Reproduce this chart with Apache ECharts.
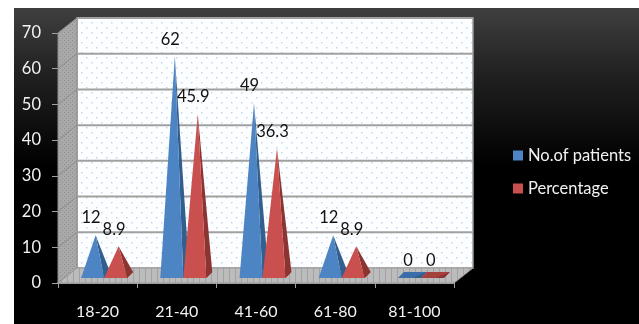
<!DOCTYPE html>
<html>
<head>
<meta charset="utf-8">
<style>html,body{margin:0;padding:0;background:#fff}#chart{width:639px;height:324px}</style>
<script src="https://cdn.jsdelivr.net/npm/echarts@6/dist/echarts.min.js"></script>
</head>
<body>
<div id="chart"></div>
<script>
const categories = ['18-20', '21-40', '41-60', '61-80', '81-100'];
const patients = [12, 62, 49, 12, 0];
const percentage = [8.9, 45.9, 36.3, 8.9, 0];
const yTicks = [0, 10, 20, 30, 40, 50, 60, 70];

// little tile used to fake the office dotted / hatched fills
function tile(w, h, bg, fg, draw) {
  const c = document.createElement('canvas');
  c.width = w; c.height = h;
  const ctx = c.getContext('2d');
  ctx.fillStyle = bg;
  ctx.fillRect(0, 0, w, h);
  ctx.fillStyle = fg;
  ctx.strokeStyle = fg;
  draw(ctx);
  return { image: c, repeat: 'repeat' };
}
const wallFill = tile(10, 10, '#fdfeff', '#c3d6ee', (g) => {
  g.fillRect(1, 2, 1.5, 1.5);
  g.fillRect(6, 7, 1.5, 1.5);
});
const sideFill = tile(4, 4, '#a9a9a9', '#8f8f8f', (g) => {
  g.fillRect(0, 0, 1, 1);
  g.fillRect(2, 2, 1, 1);
});
const floorFill = tile(6, 4, '#bcbcbc', '#a2a2a2', (g) => {
  g.fillRect(1, 0, 1, 4);
});

// depth of the fake 3d box
const depthX = 19, depthY = -15;

function renderWall(params, api) {
  const v = api.value(0);
  const p = api.coord([0, v]);
  const size = api.size([1, 0]);
  const left = p[0] - size[0] / 2;
  const right = left + size[0] * categories.length;
  const children = [];
  if (params.dataIndex === 0) {
    const top = api.coord([0, yTicks[yTicks.length - 1]])[1];
    children.push({
      type: 'polygon',
      shape: { points: [[left + depthX, top + depthY], [right + depthX, top + depthY], [right + depthX, p[1] + depthY], [left + depthX, p[1] + depthY]] },
      style: { fill: wallFill, stroke: '#9a9a9a', lineWidth: 1.5 }
    }, {
      type: 'polygon',
      shape: { points: [[left, top], [left + depthX, top + depthY], [left + depthX, p[1] + depthY], [left, p[1]]] },
      style: { fill: sideFill, stroke: '#8c8c8c', lineWidth: 1 }
    }, {
      type: 'polygon',
      shape: { points: [[left, p[1]], [left + depthX, p[1] + depthY], [right + depthX, p[1] + depthY], [right, p[1]]] },
      style: { fill: floorFill, stroke: '#9a9a9a', lineWidth: 1 }
    });
  } else {
    children.push({
      type: 'line',
      shape: { x1: left + depthX, y1: p[1] + depthY, x2: right + depthX, y2: p[1] + depthY },
      style: { stroke: '#a0a0a0', lineWidth: 2 }
    }, {
      type: 'line',
      shape: { x1: left, y1: p[1], x2: left + depthX, y2: p[1] + depthY },
      style: { stroke: '#8c8c8c', lineWidth: 1 }
    });
  }
  return { type: 'group', children: children };
}

function pyramidRender(side, front, dark, base) {
  return function (params, api) {
    const idx = api.value(0);
    const val = api.value(1);
    const band = api.size([1, 0])[0];
    const barW = band * 0.29;
    const zero = api.coord([idx, 0]);
    const top = api.coord([idx, val]);
    const x0 = zero[0] + 6.5 + (side < 0 ? -barW : 0);
    const x1 = x0 + barW;
    const y0 = zero[1] - 5;
    const ax = (x0 + x1) / 2 + 3;
    const ay = top[1] - 5;
    return {
      type: 'group',
      children: [{
        type: 'polygon',
        shape: { points: [[x0, y0], [x1, y0], [x1 + 6, y0 - 6], [x0 + 6, y0 - 6]] },
        style: { fill: base }
      }, {
        type: 'polygon',
        shape: { points: [[x1, y0], [x1 + 6, y0 - 6], [ax, ay]] },
        style: { fill: dark }
      }, {
        type: 'polygon',
        shape: { points: [[x0, y0], [x1, y0], [ax, ay]] },
        style: { fill: front }
      }, {
        type: 'text',
        style: {
          x: ax - 4.5, y: ay - 17, text: String(val), align: 'center', verticalAlign: 'middle',
          fill: '#111', font: '16.5px Lato'
        }
      }]
    };
  };
}

const chart = echarts.init(document.getElementById('chart'), null, { renderer: 'canvas' });
chart.setOption({
  animation: false,
  backgroundColor: '#fff',
  textStyle: { fontFamily: 'Lato' },
  graphic: [{
    type: 'rect',
    z: -10,
    shape: { x: 14, y: 8, width: 625, height: 316 },
    style: {
      fill: new echarts.graphic.LinearGradient(0, 0, 0, 1, [
        { offset: 0, color: '#3f3f3f' },
        { offset: 0.2, color: '#222' },
        { offset: 0.5, color: '#000' },
        { offset: 1, color: '#000' }
      ])
    }
  }],
  legend: {
    data: ['No.of patients', 'Percentage'],
    orient: 'vertical',
    left: 508,
    top: 142,
    icon: 'rect',
    itemWidth: 10,
    itemHeight: 10,
    itemGap: 16,
    textStyle: { color: '#f2f2f2', fontSize: 16.5, fontFamily: 'Lato' }
  },
  grid: { left: 58, right: 185, top: 33, bottom: 41 },
  xAxis: {
    type: 'category',
    data: categories,
    axisLine: { lineStyle: { color: '#a0a0a0', width: 2 } },
    axisTick: { show: true, alignWithLabel: false, length: 5, lineStyle: { color: '#a0a0a0' } },
    axisLabel: { color: '#f2f2f2', fontSize: 16, margin: 21, fontFamily: 'Lato' }
  },
  yAxis: {
    type: 'value',
    min: 0,
    max: 70,
    interval: 10,
    splitLine: { show: false },
    axisLine: { show: true, lineStyle: { color: '#a0a0a0' } },
    axisTick: { show: true, length: 6, lineStyle: { color: '#a0a0a0' } },
    axisLabel: { color: '#f2f2f2', fontSize: 16.5, margin: 17, fontFamily: 'Lato' }
  },
  series: [{
    type: 'custom',
    name: 'wall',
    z: 1,
    silent: true,
    renderItem: renderWall,
    data: yTicks.map((t) => [t]),
    encode: { y: 0 }
  }, {
    type: 'custom',
    name: 'No.of patients',
    z: 3,
    itemStyle: { color: '#4d84c4' },
    renderItem: pyramidRender(-1, '#4d84c4', '#335f8f', '#3a6ea8'),
    data: patients.map((v, i) => [i, v]),
    encode: { x: 0, y: 1 }
  }, {
    type: 'custom',
    name: 'Percentage',
    z: 4,
    itemStyle: { color: '#c9504e' },
    renderItem: pyramidRender(1, '#c9504e', '#8c3432', '#a5403d'),
    data: percentage.map((v, i) => [i, v]),
    encode: { x: 0, y: 1 }
  }]
});
</script>
</body>
</html>
